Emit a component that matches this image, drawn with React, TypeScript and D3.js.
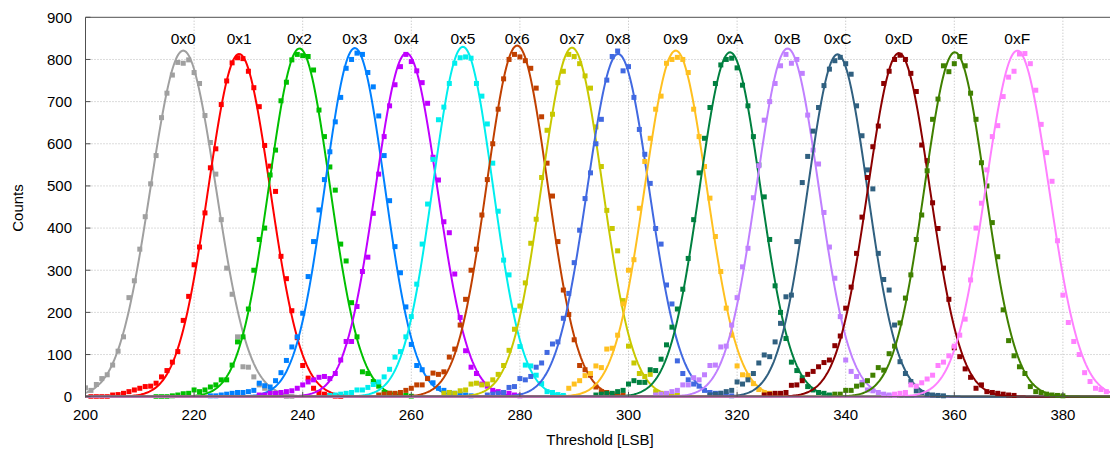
import React from 'react';
import * as d3 from 'd3';

const W = 1110;
const H = 450;

const NAMES = ['0x0', '0x1', '0x2', '0x3', '0x4', '0x5', '0x6', '0x7', '0x8', '0x9', '0xA', '0xB', '0xC', '0xD', '0xE', '0xF'];
const COLORS = ['#a0a0a0', '#ff0000', '#00c000', '#0080ff', '#c000ff', '#00eeee', '#c04000', '#c8c800',
  '#4169e1', '#ffc020', '#008040', '#c080ff', '#306080', '#8b0000', '#408000', '#ff80ff'];

// gaussian fit results per code
const FIT_MEAN = [218.0, 228.3, 239.4, 249.6, 259.1, 269.5, 279.5, 289.6, 298.1, 308.7, 318.7, 329.3, 338.5, 349.8, 360.1, 371.6];
const FIT_SIGMA = [6.0, 5.7, 5.6, 5.5, 5.7, 5.5, 5.6, 5.6, 5.7, 5.7, 5.6, 5.7, 5.5, 5.7, 5.6, 5.8];
const FIT_AMP = [821, 813, 826, 827, 815, 830, 833, 828, 813, 821, 817, 826, 812, 815, 817, 821];

// measured counts, one value per threshold step starting at START[i]
const START = [200, 201, 213, 223, 232, 245, 254, 266, 274, 289, 294, 305, 315, 325, 338, 349];
const COUNTS_0 = [21, 15, 29, 43, 52, 75, 108, 142, 235, 275, 350, 427, 505, 572, 662, 720, 763, 793, 791, 799, 769, 743, 667, 603, 528, 420, 305, 243, 142, 71, 70, 47, 28, 20, 12, 6, 3, 0, 0];
const COUNTS_1 = [0, 0, 0, 0, 4, 5, 8, 12, 16, 20, 24, 25, 32, 47, 62, 82, 107, 181, 238, 313, 355, 436, 543, 588, 693, 749, 792, 804, 802, 772, 733, 688, 596, 547, 487, 333, 280, 204, 140, 74, 44, 20, 10, 6, 3, 1, 0];
const COUNTS_2 = [0, 0, 0, 2, 4, 7, 8, 16, 12, 16, 23, 28, 40, 40, 75, 130, 142, 208, 300, 373, 400, 526, 585, 702, 746, 799, 812, 809, 807, 775, 680, 617, 545, 490, 362, 322, 223, 142, 59, 55, 36, 25, 10, 8, 6, 4, 3, 1];
const COUNTS_3 = [2, 2, 4, 6, 8, 10, 10, 12, 15, 32, 26, 23, 38, 57, 86, 118, 142, 198, 285, 368, 443, 515, 581, 652, 710, 779, 800, 815, 812, 769, 735, 666, 572, 465, 356, 294, 213, 124, 74, 64, 44, 33, 20, 15, 10, 8, 6, 4, 2];
const COUNTS_4 = [4, 4, 8, 8, 10, 12, 14, 20, 28, 35, 40, 46, 48, 43, 55, 87, 131, 131, 214, 297, 331, 435, 528, 617, 690, 740, 783, 812, 795, 773, 745, 696, 568, 514, 415, 389, 291, 188, 109, 70, 55, 30, 25, 15, 12, 10, 8, 4, 2];
const COUNTS_5 = [3, 4, 6, 8, 10, 16, 16, 22, 29, 35, 47, 65, 94, 107, 142, 190, 267, 362, 457, 563, 657, 687, 743, 791, 804, 806, 803, 743, 713, 647, 554, 440, 324, 289, 205, 119, 75, 73, 51, 31, 12, 10, 5, 3];
const COUNTS_6 = [4, 6, 8, 8, 10, 15, 20, 28, 28, 43, 56, 53, 59, 94, 113, 170, 231, 300, 350, 431, 515, 600, 682, 754, 800, 812, 806, 797, 779, 732, 664, 554, 476, 368, 253, 195, 135, 74, 64, 51, 23, 12, 10, 6, 4, 4];
const COUNTS_7 = [8, 10, 8, 14, 16, 30, 32, 28, 30, 40, 53, 74, 110, 160, 215, 270, 364, 421, 520, 632, 670, 745, 772, 812, 807, 790, 761, 732, 640, 546, 442, 399, 346, 228, 120, 80, 55, 48, 53, 12, 8, 6, 4, 3];
const COUNTS_8 = [4, 6, 8, 10, 22, 24, 43, 40, 48, 70, 80, 105, 125, 130, 186, 245, 318, 395, 470, 531, 600, 658, 751, 807, 820, 773, 783, 710, 634, 575, 506, 399, 362, 265, 220, 85, 55, 40, 30, 25, 15, 10, 8, 8, 4, 2];
const COUNTS_9 = [20, 30, 38, 50, 55, 73, 69, 113, 115, 146, 220, 300, 325, 447, 558, 613, 682, 713, 791, 800, 805, 800, 769, 682, 617, 546, 471, 380, 297, 210, 146, 73, 52, 50, 31, 17, 10, 8, 4];
const COUNTS_A = [4, 6, 8, 8, 12, 15, 30, 38, 34, 34, 64, 62, 89, 123, 165, 208, 255, 328, 420, 531, 613, 686, 743, 787, 800, 803, 780, 739, 690, 617, 550, 474, 373, 263, 200, 138, 82, 62, 45, 24, 16, 10, 8, 4];
const COUNTS_B = [4, 6, 8, 12, 15, 28, 28, 45, 40, 52, 74, 75, 118, 120, 170, 235, 308, 352, 472, 548, 656, 700, 743, 785, 812, 791, 800, 767, 668, 585, 552, 437, 355, 281, 190, 87, 60, 48, 34, 16, 14, 10, 6, 4, 3];
const COUNTS_C = [4, 6, 8, 12, 15, 35, 30, 40, 55, 80, 99, 95, 130, 174, 237, 241, 368, 508, 570, 630, 686, 738, 777, 797, 805, 790, 765, 690, 619, 538, 493, 340, 278, 253, 170, 83, 55, 36, 14, 10, 6, 4, 3, 2];
const COUNTS_D = [4, 6, 8, 8, 10, 27, 28, 38, 53, 60, 71, 81, 87, 121, 144, 210, 260, 340, 426, 520, 593, 642, 743, 772, 800, 810, 800, 767, 724, 597, 560, 460, 399, 305, 231, 116, 95, 66, 46, 20, 28, 12, 10, 8, 6, 4, 3];
const COUNTS_E = [6, 6, 15, 15, 25, 28, 38, 51, 69, 63, 102, 120, 175, 234, 289, 373, 431, 536, 658, 706, 785, 771, 790, 807, 785, 720, 658, 555, 500, 413, 332, 206, 133, 97, 71, 55, 24, 12, 10, 6, 4, 3, 2];
const COUNTS_F = [6, 8, 10, 28, 25, 33, 42, 51, 74, 82, 97, 120, 146, 184, 277, 400, 459, 538, 617, 643, 712, 758, 772, 813, 814, 790, 727, 646, 579, 511, 370, 241, 176, 131, 100, 57, 36, 20, 17, 12];
const COUNTS = [COUNTS_0, COUNTS_1, COUNTS_2, COUNTS_3, COUNTS_4, COUNTS_5, COUNTS_6, COUNTS_7,
  COUNTS_8, COUNTS_9, COUNTS_A, COUNTS_B, COUNTS_C, COUNTS_D, COUNTS_E, COUNTS_F];

const X_TICKS = [200, 220, 240, 260, 280, 300, 320, 340, 360, 380];
const Y_TICKS = [0, 100, 200, 300, 400, 500, 600, 700, 800, 900];

const FONT = '"Liberation Sans", Arial, sans-serif';

export default function App() {
  const x = d3.scaleLinear().domain([200, 390]).range([85.5, 1117.2]);
  const y = d3.scaleLinear().domain([0, 900]).range([396.7, 17.3]);
  const [x0, x1] = x.range();
  const [y0, y1] = y.range();

  const gauss = (i: number) => (t: number) =>
    FIT_AMP[i] * Math.exp(-((t - FIT_MEAN[i]) ** 2) / (2 * FIT_SIGMA[i] ** 2));
  const samples = d3.range(200, 390.01, 0.25);
  const line = d3.line<[number, number]>().x(d => x(d[0])).y(d => y(d[1]));

  return (
    <svg width={W} height={H} style={{ position: 'absolute', left: 0, top: 0, background: '#fff' }}
      fontFamily={FONT}>
      <defs>
        <clipPath id="plot">
          <rect x={x0} y={y1 - 2} width={x1 - x0} height={y0 - y1 + 4} />
        </clipPath>
      </defs>

      {/* grid */}
      {X_TICKS.slice(1).map(t => (
        <line key={'gx' + t} x1={x(t)} x2={x(t)} y1={y0} y2={y1} stroke="#b8b8b8" strokeWidth={1} strokeDasharray="1,2" />
      ))}
      {Y_TICKS.slice(1, -1).map(t => (
        <line key={'gy' + t} x1={x0} x2={x1} y1={y(t)} y2={y(t)} stroke="#b8b8b8" strokeWidth={1} strokeDasharray="1,2" />
      ))}

      <g clipPath="url(#plot)">
        {NAMES.map((name, i) => (
          <g key={name}>
            <path d={line(samples.map(t => [t, gauss(i)(t)]))!} fill="none" stroke={COLORS[i]} strokeWidth={2} />
            {COUNTS[i].map((c, k) => (
              <rect key={k} x={x(START[i] + k) - 2.5} y={y(c) - 2.5} width={5} height={5} fill={COLORS[i]} />
            ))}
          </g>
        ))}
      </g>

      {/* frame */}
      <line x1={x0} x2={x0} y1={y0} y2={y1} stroke="#505050" strokeWidth={1} />
      <line x1={x0} x2={x1} y1={y1} y2={y1} stroke="#505050" strokeWidth={1} />
      <line x1={x0} x2={x1} y1={y0} y2={y0} stroke="#505050" strokeWidth={1} />
      {Y_TICKS.map(t => (
        <g key={'yt' + t}>
          <line x1={x0} x2={x0 + 5} y1={y(t)} y2={y(t)} stroke="#505050" />
          <text x={72} y={y(t) + 5.3} textAnchor="end" fontSize={15} fill="#000">{t}</text>
        </g>
      ))}
      {X_TICKS.map(t => (
        <g key={'xt' + t}>
          <line x1={x(t)} x2={x(t)} y1={y0} y2={y0 - 5} stroke="#505050" />
          <text x={x(t)} y={420} textAnchor="middle" fontSize={15} fill="#000">{t}</text>
        </g>
      ))}

      {NAMES.map((name, i) => (
        <text key={'lab' + name} x={x(FIT_MEAN[i])} y={43.5} textAnchor="middle" fontSize={15.5} fill="#000">{name}</text>
      ))}

      <text transform="translate(23,208) rotate(-90)" textAnchor="middle" fontSize={15} fill="#000">Counts</text>
      <text x={600} y={445} textAnchor="middle" fontSize={15} fill="#000">Threshold [LSB]</text>
    </svg>
  );
}
